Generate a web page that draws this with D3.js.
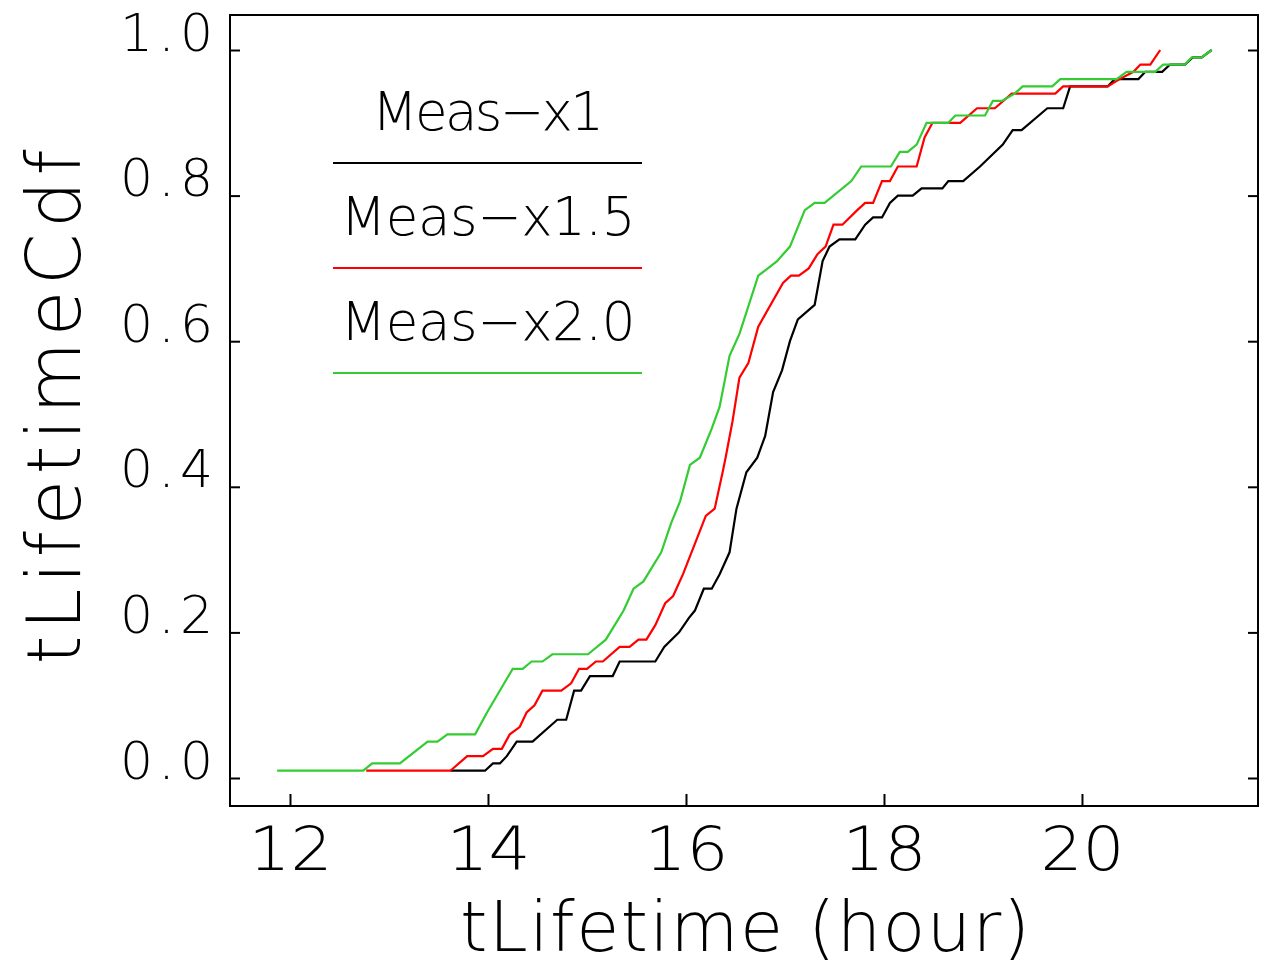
<!DOCTYPE html>
<html>
<head>
<meta charset="utf-8">
<script src="https://cdn.jsdelivr.net/npm/d3@7"></script>
<style>
  html, body { margin: 0; padding: 0; background: #fff; }
  svg { display: block; }
  text { font-family: "DejaVu Sans", sans-serif; font-weight: 200; fill: #000; }
</style>
</head>
<body>
<svg id="chart" width="1264" height="969"></svg>
<script>
// Empirical CDF of lifetime (hours) for three measurement scalings
const timesX1 = [13.62,13.97,14.05,14.12,14.19,14.29,14.45,14.70,14.79,14.87,14.94,15.03,15.26,15.33,15.69,15.78,15.93,16.03,16.09,16.18,16.26,16.34,16.44,16.51,16.61,16.72,16.80,16.88,16.97,17.05,17.13,17.30,17.38,17.45,17.55,17.71,17.81,17.89,17.98,18.06,18.14,18.29,18.38,18.59,18.65,18.80,18.97,19.20,19.30,19.39,19.65,19.81,19.88,20.26,20.33,20.57,20.64,20.81,20.89,21.04,21.12,21.21,21.31];
const cdfX1   = [0.01,0.01,0.02,0.02,0.03,0.05,0.05,0.08,0.08,0.12,0.12,0.14,0.14,0.16,0.16,0.18,0.20,0.22,0.23,0.26,0.26,0.28,0.31,0.37,0.42,0.44,0.47,0.53,0.56,0.60,0.63,0.65,0.71,0.73,0.74,0.74,0.76,0.77,0.77,0.79,0.80,0.80,0.81,0.81,0.82,0.82,0.84,0.87,0.89,0.89,0.92,0.92,0.95,0.95,0.96,0.96,0.97,0.97,0.98,0.98,0.99,0.99,1.00];

const timesX15 = [12.77,13.62,13.79,13.95,14.05,14.14,14.22,14.32,14.39,14.47,14.55,14.74,14.84,14.92,15.00,15.09,15.16,15.33,15.43,15.52,15.60,15.69,15.79,15.87,15.97,16.20,16.29,16.37,16.40,16.47,16.54,16.63,16.73,16.98,17.06,17.14,17.24,17.33,17.41,17.49,17.58,17.73,17.81,17.89,17.98,18.06,18.14,18.33,18.41,18.49,18.77,18.94,19.12,19.29,19.73,19.81,20.26,20.38,20.52,20.59,20.69,20.79];
const cdfX15   = [0.01,0.01,0.03,0.03,0.04,0.04,0.06,0.07,0.09,0.10,0.12,0.12,0.13,0.15,0.15,0.16,0.16,0.18,0.18,0.19,0.19,0.21,0.24,0.25,0.28,0.36,0.37,0.42,0.44,0.49,0.55,0.57,0.62,0.68,0.69,0.69,0.70,0.72,0.73,0.76,0.76,0.78,0.79,0.79,0.82,0.82,0.84,0.84,0.88,0.90,0.90,0.92,0.92,0.94,0.94,0.95,0.95,0.96,0.97,0.98,0.98,1.00];

const timesX20 = [11.87,12.74,12.83,13.11,13.39,13.49,13.59,13.87,13.99,14.25,14.35,14.44,14.55,14.65,15.01,15.19,15.37,15.47,15.57,15.75,15.85,15.94,16.04,16.14,16.26,16.34,16.44,16.54,16.73,16.92,17.05,17.20,17.30,17.40,17.67,17.77,18.07,18.16,18.24,18.33,18.43,18.65,18.72,19.02,19.10,19.19,19.32,19.40,19.70,19.78,20.35,20.45,20.74,20.82,21.04,21.11,21.21,21.31];
const cdfX20   = [0.01,0.01,0.02,0.02,0.05,0.05,0.06,0.06,0.09,0.15,0.15,0.16,0.16,0.17,0.17,0.19,0.23,0.26,0.27,0.31,0.35,0.38,0.43,0.44,0.48,0.51,0.58,0.61,0.69,0.71,0.73,0.78,0.79,0.79,0.82,0.84,0.84,0.86,0.86,0.87,0.90,0.90,0.91,0.91,0.93,0.93,0.94,0.95,0.95,0.96,0.96,0.97,0.97,0.98,0.98,0.99,0.99,1.00];

const seriesNames  = ["Meas\u2212x1", "Meas\u2212x1.5", "Meas\u2212x2.0"];
const seriesColors = ["#000000", "#ff0000", "#33cc33"];
const xTicks = [12, 14, 16, 18, 20];
const yTicks = [0.0, 0.2, 0.4, 0.6, 0.8, 1.0];
const xTitle = "tLifetime (hour)";
const yTitle = "tLifetimeCdf";

const svg = d3.select("#chart");
const plot = { left: 230, right: 1258, top: 15, bottom: 806 };

const x = d3.scaleLinear().domain([11.394, 21.778]).range([plot.left, plot.right]);
const y = d3.scaleLinear().domain([-0.03846, 1.04808]).range([plot.bottom, plot.top]);

const series = [
  { name: seriesNames[0], color: seriesColors[0], t: timesX1,  c: cdfX1 },
  { name: seriesNames[1], color: seriesColors[1], t: timesX15, c: cdfX15 },
  { name: seriesNames[2], color: seriesColors[2], t: timesX20, c: cdfX20 }
];

// curves
const line = d3.line().x(d => x(d[0])).y(d => y(d[1]));
svg.append("g").selectAll("path")
  .data(series)
  .join("path")
  .attr("d", s => line(d3.zip(s.t, s.c)))
  .attr("fill", "none")
  .attr("stroke", s => s.color)
  .attr("stroke-width", 2.2)
  .attr("stroke-linejoin", "miter");

// frame
svg.append("rect")
  .attr("x", plot.left).attr("y", plot.top)
  .attr("width", plot.right - plot.left).attr("height", plot.bottom - plot.top)
  .attr("fill", "none").attr("stroke", "#000").attr("stroke-width", 2);

// bottom axis: inward ticks, labels below
const xAxis = svg.append("g")
  .attr("transform", `translate(0,${plot.bottom})`)
  .call(d3.axisBottom(x).tickValues(xTicks).tickSize(-12).tickFormat(d3.format("d")));
xAxis.select(".domain").remove();
xAxis.selectAll(".tick line").attr("stroke", "#000").attr("stroke-width", 2);
xAxis.selectAll(".tick text")
  .attr("y", 64).attr("dy", 0)
  .attr("font-size", 60)
  .attr("textLength", 84).attr("lengthAdjust", "spacingAndGlyphs")
  .style("font-family", "'DejaVu Sans', sans-serif");

// left axis: inward ticks, labels sitting on the tick
const yAxis = svg.append("g")
  .attr("transform", `translate(${plot.left},0)`)
  .call(d3.axisLeft(y).tickValues(yTicks).tickSize(-10).tickFormat(d3.format(".1f")));
yAxis.select(".domain").remove();
yAxis.selectAll(".tick line").attr("stroke", "#000").attr("stroke-width", 2);
yAxis.selectAll(".tick text")
  .attr("x", -17).attr("dy", 0)
  .attr("font-size", 52)
  .attr("textLength", 93).attr("lengthAdjust", "spacing")
  .style("font-family", "'DejaVu Sans', sans-serif");

// right side ticks
const yRight = svg.append("g")
  .attr("transform", `translate(${plot.right},0)`)
  .call(d3.axisRight(y).tickValues(yTicks).tickSize(-10).tickFormat(""));
yRight.select(".domain").remove();
yRight.selectAll(".tick line").attr("stroke", "#000").attr("stroke-width", 2);

// axis titles
svg.append("text")
  .attr("x", 745).attr("y", 951)
  .attr("text-anchor", "middle")
  .attr("font-size", 70)
  .attr("textLength", 570).attr("lengthAdjust", "spacing")
  .text(xTitle);

svg.append("text")
  .attr("transform", "translate(80,407) rotate(-90)")
  .attr("text-anchor", "middle")
  .attr("font-size", 74)
  .attr("textLength", 515).attr("lengthAdjust", "spacing")
  .text(yTitle);

// legend: label above a sample line
const legend = svg.append("g");
const legendRow = d3.scaleLinear().domain([0, 1]).range([163, 268]);
const legendWidths = [232, 295, 295];
series.forEach((s, i) => {
  const ly = legendRow(i);
  legend.append("text")
    .attr("x", 488).attr("y", ly - 33)
    .attr("text-anchor", "middle")
    .attr("font-size", 53)
    .attr("textLength", legendWidths[i]).attr("lengthAdjust", "spacing")
    .text(s.name);
  legend.append("line")
    .attr("x1", 333).attr("x2", 642)
    .attr("y1", ly).attr("y2", ly)
    .attr("stroke", s.color).attr("stroke-width", 2);
});
</script>
</body>
</html>
